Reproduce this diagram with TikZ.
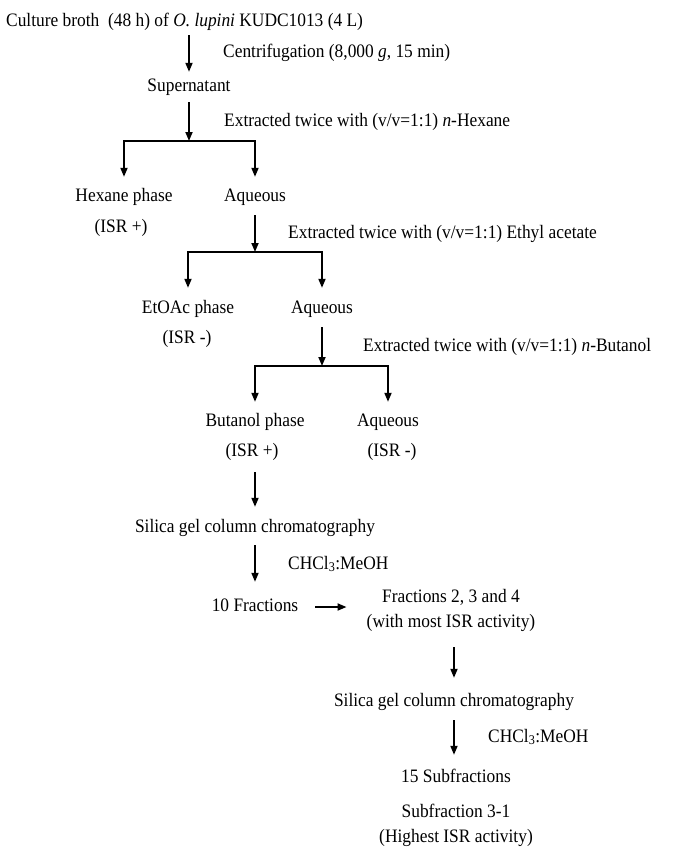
\documentclass[tikz,border=0pt]{standalone}
\usepackage{fontspec}
\setmainfont{Liberation Serif}[FakeStretch=0.915]
\usetikzlibrary{arrows.meta}

\tikzset{
    lbl/.style={inner sep=0pt, text height=12pt, text depth=4pt, font=\fontsize{19}{25}\selectfont},
    lbltwo/.style={inner sep=0pt, align=center, font=\fontsize{19}{25}\selectfont},
    arr/.style={line width=1.8pt, -{Triangle[length=9pt,width=7pt]}}
}

\begin{document}
\begin{tikzpicture}[x=1pt, y=-1pt]
    \useasboundingbox (0,0) rectangle (673,863);
    \node[lbl, anchor=west] (broth) at (6,22) {Culture broth\ \ (48 h) of \textit{O. lupini} KUDC1013 (4 L)};
    \node[lbl] (super) at (189,87) {Supernatant};
    \node[lbl, anchor=west] (centri) at (223,53) {Centrifugation (8,000 \textit{g}, 15 min)};
    \coordinate (jhex) at (189,141);
    \node[lbl, anchor=west] (exhex) at (224,122) {Extracted twice with (v/v=1:1) \textit{n}-Hexane};
    \node[lbl] (hexph) at (124,197) {Hexane phase};
    \node[lbl] (hexisr) at (121,228) {(ISR +)};
    \node[lbl] (aqone) at (255,197) {Aqueous};
    \coordinate (jeto) at (255,252);
    \node[lbl, anchor=west] (exeto) at (288,234) {Extracted twice with (v/v=1:1) Ethyl acetate};
    \node[lbl] (etoph) at (188,309) {EtOAc phase};
    \node[lbl] (etoisr) at (187,339) {(ISR -)};
    \node[lbl] (aqtwo) at (322,309) {Aqueous};
    \coordinate (jbut) at (322,366);
    \node[lbl, anchor=west] (exbut) at (363,347) {Extracted twice with (v/v=1:1) \textit{n}-Butanol};
    \node[lbl] (butph) at (255,422) {Butanol phase};
    \node[lbl] (butisr) at (252,452) {(ISR +)};
    \node[lbl] (aqthree) at (388,422) {Aqueous};
    \node[lbl] (aqisr) at (392,452) {(ISR -)};
    \node[lbl] (silone) at (255,528) {Silica gel column chromatography};
    \node[lbl, anchor=west] (solone) at (288,565) {CHCl\textsubscript{3}:MeOH};
    \node[lbl] (tenfr) at (255,607) {10 Fractions};
    \node[lbltwo] (frsel) at (451,610) {Fractions 2, 3 and 4\\(with most ISR activity)};
    \node[lbl] (siltwo) at (454,702) {Silica gel column chromatography};
    \node[lbl, anchor=west] (soltwo) at (488,738) {CHCl\textsubscript{3}:MeOH};
    \node[lbl] (subfr) at (456,778) {15 Subfractions};
    \node[lbltwo] (best) at (456,825) {Subfraction 3-1\\(Highest ISR activity)};

    \draw[arr, shorten <=5pt, shorten >=7pt] (broth.south -| super.north) -- (super.north);
    \draw[arr, shorten <=7pt] (super.south) -- (jhex);
    \draw[arr, shorten >=12pt] (jhex) -| (hexph.north);
    \draw[arr, shorten >=12pt] (jhex) -| (aqone.north);
    \draw[arr, shorten <=10pt] (aqone.south) -- (jeto);
    \draw[arr, shorten >=13pt] (jeto) -| (etoph.north);
    \draw[arr, shorten >=13pt] (jeto) -| (aqtwo.north);
    \draw[arr, shorten <=10pt] (aqtwo.south) -- (jbut);
    \draw[arr, shorten >=12pt] (jbut) -| (butph.north);
    \draw[arr, shorten >=12pt] (jbut) -| (aqthree.north);
    \draw[arr, shorten <=12pt, shorten >=13pt] (butisr.south -| silone.north) -- (silone.north);
    \draw[arr, shorten <=9pt, shorten >=17pt] (silone.south) -- (tenfr.north);
    \draw[arr, shorten <=17pt, shorten >=20pt] (tenfr.east) -- (tenfr.east -| frsel.west);
    \draw[arr, shorten <=16pt, shorten >=16pt] (frsel.south -| siltwo.north) -- (siltwo.north);
    \draw[arr, shorten <=10pt, shorten >=15pt] (siltwo.south) -- (siltwo.south |- subfr.north);
\end{tikzpicture}
\end{document}
